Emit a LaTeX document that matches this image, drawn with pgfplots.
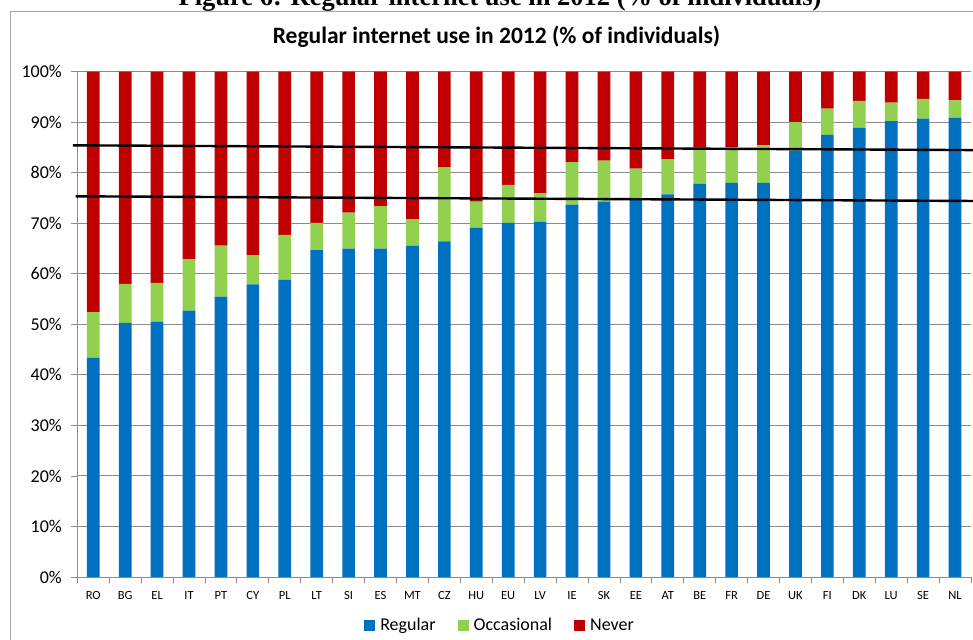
\documentclass[border=0pt]{standalone}
\usepackage{pgfplots}
\pgfplotsset{compat=1.18}
\usepackage{pgfplotstable}
\usepackage{fontspec}
\setmainfont{Carlito}
\newfontfamily\capfont{Liberation Serif}
\definecolor{cblue}{HTML}{0070C0}
\definecolor{cgreen}{HTML}{92D050}
\definecolor{cred}{HTML}{C00000}
\definecolor{cgrid}{HTML}{8C8C8C}
\pgfplotstableread{
x cat regular occasional never
0  RO 43.4 9.0 47.6
1  BG 50.3 7.7 42.0
2  EL 50.5 7.7 41.8
3  IT 52.7 10.2 37.1
4  PT 55.5 10.1 34.4
5  CY 57.9 5.8 36.3
6  PL 58.8 8.9 32.3
7  LT 64.7 5.4 29.9
8  SI 65.0 7.1 27.9
9  ES 65.0 8.4 26.6
10 MT 65.6 5.2 29.2
11 CZ 66.4 14.7 18.9
12 HU 69.1 5.2 25.7
13 EU 70.1 7.5 22.4
14 LV 70.3 5.6 24.1
15 IE 73.7 8.4 17.9
16 SK 74.3 8.1 17.6
17 EE 74.7 6.1 19.2
18 AT 75.7 7.0 17.3
19 BE 77.8 7.2 15.0
20 FR 78.0 7.0 15.0
21 DE 78.0 7.4 14.6
22 UK 84.4 5.6 10.0
23 FI 87.5 5.2 7.3
24 DK 88.9 5.3 5.8
25 LU 90.2 3.7 6.1
26 SE 90.7 3.9 5.4
27 NL 90.9 3.4 5.7
}\datatable
\begin{document}
\begin{tikzpicture}[x=1pt,y=1pt]
\useasboundingbox (0,0) rectangle (973,639);
% outer chart border (partly cropped)
\draw[color=black!35, line width=1pt] (10,-20) rectangle (1000,627);
% figure caption (cropped at top)
\node[anchor=base, font=\capfont\bfseries\fontsize{26.5}{30}\selectfont, inner sep=0pt] at (500,633) {Figure 6: Regular internet use in 2012 (\% of individuals)};
% chart title
\node[anchor=base, font=\bfseries\fontsize{23.5}{27}\selectfont, inner sep=0pt] at (496.5,595.5) {Regular internet use in 2012 (\% of individuals)};
\begin{axis}[
  at={(77.3pt,62pt)}, anchor=south west,
  width=893.7pt, height=505.3pt, scale only axis,
  ybar stacked, bar width=12.7pt,
  xmin=-0.5, xmax=27.5, ymin=0, ymax=100,
  clip=false,
  axis x line*=bottom, axis y line*=left,
  axis line style={cgrid, line width=0.8pt},
  xtick={0,...,27},
  xticklabels from table={\datatable}{cat},
  major x tick style={draw=none},
  minor xtick={-0.5,0.5,...,27.5},
  minor x tick style={cgrid, line width=0.8pt},
  minor tick length=6pt,
  x tick label style={font=\fontsize{12.5}{14}\selectfont, yshift=-5pt},
  ytick={0,10,...,100},
  yticklabel={\pgfmathprintnumber{\tick}\%},
  y tick label style={font=\fontsize{18}{20}\selectfont, xshift=-6pt},
  /pgf/number format/assume math mode=true,
  major y tick style={cgrid, line width=0.8pt},
  major tick length=6pt,
  tick align=outside,
  ymajorgrids,
  grid style={cgrid, line width=0.9pt},
  legend style={at={(0.473,-0.095)}, anchor=center, draw=none, fill=none,
    legend columns=3, font=\fontsize{18}{20}\selectfont,
    /tikz/every odd column/.append style={column sep=3pt},
    /tikz/every even column/.append style={column sep=20pt}},
  legend image code/.code={\fill[#1] (0pt,-5.5pt) rectangle (11pt,5.5pt);},
]
\addplot[fill=cblue, draw=none] table[x=x, y=regular] {\datatable};
\addplot[fill=cgreen, draw=none] table[x=x, y=occasional] {\datatable};
\addplot[fill=cred, draw=none] table[x=x, y=never] {\datatable};
\legend{Regular, Occasional, Never}
\end{axis}
\begin{axis}[
  at={(77.3pt,62pt)}, anchor=south west,
  width=893.7pt, height=505.3pt, scale only axis,
  xmin=-0.5, xmax=27.5, ymin=0, ymax=100,
  clip=false, hide axis,
]
\addplot[black, line width=2.4pt] coordinates {(-0.64,85.43) (27.65,84.48)};
\addplot[black, line width=2.4pt] coordinates {(-0.555,75.34) (27.65,74.41)};
\end{axis}
\end{tikzpicture}
\end{document}
